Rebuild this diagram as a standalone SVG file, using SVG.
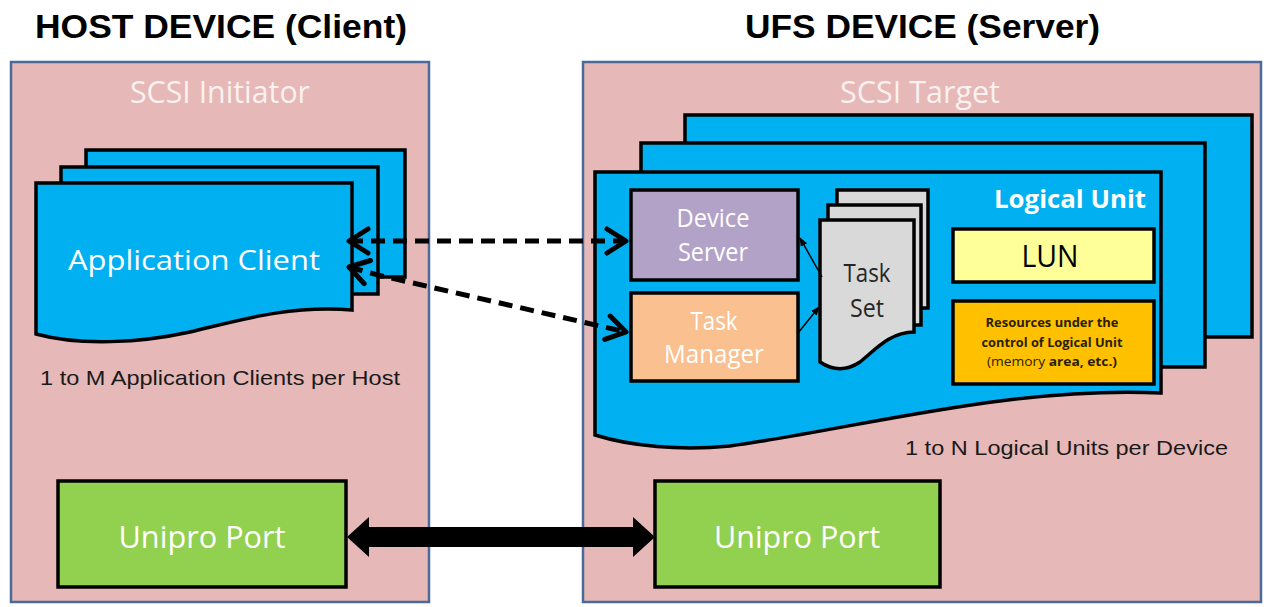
<svg xmlns="http://www.w3.org/2000/svg" width="1271" height="607" viewBox="0 0 1271 607">
<style>
.panel{fill:#e6b8b7;stroke:#4a6b9a;stroke-width:2.5}
.blue{fill:#00b0f0;stroke:#000;stroke-width:3.5}
.box{stroke:#000;stroke-width:3.5}
.hdr{font-family:"Liberation Sans",Arial,sans-serif;font-weight:bold;font-size:34px;fill:#000}
.cap{font-family:"Liberation Sans",Arial,sans-serif;font-size:21px;fill:#1a1a1a}
.cal{font-family:"Open Sans","Noto Sans",sans-serif}
.dash{fill:none;stroke:#000;stroke-width:5;stroke-dasharray:14 8}
.thin{fill:none;stroke:#000;stroke-width:1.5}
</style>
<defs>
<marker id="chev" markerUnits="userSpaceOnUse" viewBox="0 0 26 30" markerWidth="26" markerHeight="30" refX="22" refY="15" orient="auto-start-reverse">
<path d="M3,3 L22,15 L3,27" fill="none" stroke="#000" stroke-width="5" stroke-linecap="round" stroke-linejoin="round"/>
</marker>
<marker id="small" markerUnits="userSpaceOnUse" viewBox="0 0 10 10" markerWidth="9" markerHeight="9" refX="9" refY="5" orient="auto">
<path d="M0,1 L10,5 L0,9 Z" fill="#000"/>
</marker>
</defs>

<text class="hdr" x="35" y="38" textLength="372" lengthAdjust="spacingAndGlyphs">HOST DEVICE (Client)</text>
<text class="hdr" x="745" y="38" textLength="355" lengthAdjust="spacingAndGlyphs">UFS DEVICE (Server)</text>

<g id="host-device">
<rect class="panel" x="11" y="62" width="418" height="540"/>
<text class="cal" x="220" y="103" text-anchor="middle" font-size="31" fill="#fbf1f1" textLength="180" lengthAdjust="spacingAndGlyphs">SCSI Initiator</text>
</g>

<g id="ufs-device">
<rect class="panel" x="583" y="62" width="678" height="540"/>
<text class="cal" x="920" y="103" text-anchor="middle" font-size="31" fill="#fbf1f1" textLength="160" lengthAdjust="spacingAndGlyphs">SCSI Target</text>
</g>

<g id="application-client">
<rect class="blue" x="86" y="150" width="319" height="127"/>
<rect class="blue" x="61" y="167" width="317" height="127"/>
<path class="blue" d="M36,183 H352 V310 C290,305 240,320 190,332 C140,343 80,346 36,334 Z"/>
<text class="cal" x="68" y="270" font-size="28" fill="#fff" textLength="252" lengthAdjust="spacingAndGlyphs">Application Client</text>
<text class="cap" x="40" y="385" textLength="360" lengthAdjust="spacingAndGlyphs">1 to M Application Clients per Host</text>
</g>

<g id="logical-unit">
<rect class="blue" x="685" y="115" width="567" height="222"/>
<rect class="blue" x="641" y="143" width="564" height="224"/>
<path class="blue" d="M595,172 H1161 V393 C1010,386 860,428 730,446 C680,451 630,446 595,435 Z"/>
<text class="cal" x="994" y="208" font-size="25" font-weight="bold" fill="#fff" textLength="152" lengthAdjust="spacingAndGlyphs">Logical Unit</text>
<text class="cap" x="905" y="455" textLength="323" lengthAdjust="spacingAndGlyphs">1 to N Logical Units per Device</text>
</g>

<g id="device-server">
<rect class="box" x="631" y="190" width="167" height="90" fill="#b3a2c7"/>
<text class="cal" x="713" y="227" text-anchor="middle" font-size="25" fill="#fff" textLength="73" lengthAdjust="spacingAndGlyphs">Device</text>
<text class="cal" x="713" y="261" text-anchor="middle" font-size="25" fill="#fff" textLength="70" lengthAdjust="spacingAndGlyphs">Server</text>
</g>

<g id="task-manager">
<rect class="box" x="631" y="293" width="167" height="88" fill="#fac090"/>
<text class="cal" x="714" y="330" text-anchor="middle" font-size="25" fill="#fff" textLength="47" lengthAdjust="spacingAndGlyphs">Task</text>
<text class="cal" x="714" y="363" text-anchor="middle" font-size="25" fill="#fff" textLength="100" lengthAdjust="spacingAndGlyphs">Manager</text>
</g>

<g id="task-set">
<rect class="box" x="837" y="190" width="91" height="118" fill="#d9d9d9"/>
<rect class="box" x="828" y="205" width="93" height="120" fill="#d9d9d9"/>
<path class="box" fill="#d9d9d9" d="M820,220 H914 V332 C890,332 875,350 860,362 C845,372 832,370 820,362 Z"/>
<text class="cal" x="867" y="282" text-anchor="middle" font-size="25" fill="#262626" textLength="47" lengthAdjust="spacingAndGlyphs">Task</text>
<text class="cal" x="867" y="317" text-anchor="middle" font-size="25" fill="#262626" textLength="34" lengthAdjust="spacingAndGlyphs">Set</text>
</g>

<g id="lun">
<rect class="box" x="953" y="229" width="201" height="53" fill="#ffff99"/>
<text class="cal" x="1050" y="267" text-anchor="middle" font-size="31" fill="#000" textLength="57" lengthAdjust="spacingAndGlyphs">LUN</text>
</g>

<g id="resources">
<rect class="box" x="953" y="301" width="201" height="83" fill="#ffc000"/>
<text class="cal" x="1052" y="327" text-anchor="middle" font-size="12" font-weight="bold" fill="#2a2000" textLength="133" lengthAdjust="spacingAndGlyphs">Resources under the</text>
<text class="cal" x="1052" y="347" text-anchor="middle" font-size="12" font-weight="bold" fill="#2a2000" textLength="141" lengthAdjust="spacingAndGlyphs">control of Logical Unit</text>
<text class="cal" x="1052" y="366" text-anchor="middle" font-size="12" fill="#2a2000" textLength="130" lengthAdjust="spacingAndGlyphs">(memory <tspan font-weight="bold">area, etc.)</tspan></text>
</g>

<g id="unipro-host">
<rect class="box" x="58" y="481" width="288" height="106" fill="#92d050"/>
<text class="cal" x="202" y="548" text-anchor="middle" font-size="31" fill="#fff" textLength="167" lengthAdjust="spacingAndGlyphs">Unipro Port</text>
</g>

<g id="unipro-device">
<rect class="box" x="655" y="481" width="285" height="106" fill="#92d050"/>
<text class="cal" x="797" y="548" text-anchor="middle" font-size="31" fill="#fff" textLength="166" lengthAdjust="spacingAndGlyphs">Unipro Port</text>
</g>

<g id="connectors">
<path class="dash" d="M349,241 L626,241" marker-start="url(#chev)" marker-end="url(#chev)"/>
<path class="dash" d="M349,267 L378,275 L626,332" marker-start="url(#chev)" marker-end="url(#chev)"/>
<path class="thin" d="M822,277 L800,238" marker-end="url(#small)"/>
<path class="thin" d="M798,333 L819,307" marker-end="url(#small)"/>
<polygon points="347,537 369,517 369,527 633,527 633,517 655,537 633,557 633,547 369,547 369,557" fill="#000"/>
</g>
</svg>
